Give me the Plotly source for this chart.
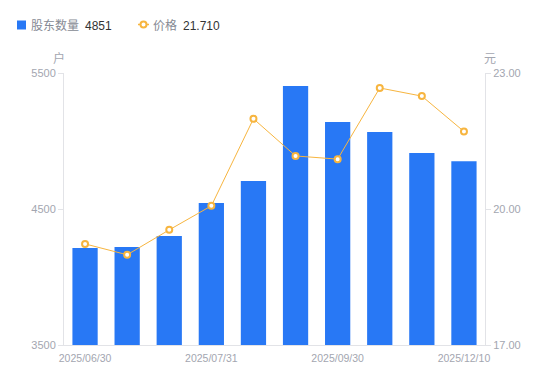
import plotly.graph_objects as go

dates = ["2025/06/30", "2025/07/10", "2025/07/20", "2025/07/31", "2025/08/10",
         "2025/08/31", "2025/09/30", "2025/10/31", "2025/11/30", "2025/12/10"]
holders = [4213, 4221, 4301, 4544, 4706, 5404, 5140, 5066, 4912, 4851]
prices = [19.23, 18.99, 19.54, 20.07, 21.99, 21.17, 21.10, 22.67, 22.49, 21.71]
shown_ticks = ["2025/06/30", "2025/07/31", "2025/09/30", "2025/12/10"]
left_ticks = [3500, 4500, 5500]
right_ticks = [17.0, 20.0, 23.0]
legend_names = ["股东数量", "价格"]
legend_values = ["4851", "21.710"]

font = "Liberation Sans, Noto Sans CJK SC, sans-serif"
grey = "#a3a6b0"
label_grey = "#868a94"
blue = "#2878f5"
orange = "#f7b53f"
axis_c = "#e2e3e7"

W, H = 550, 381
L, R, T, B = 64, 65, 73, 36
PW, PH = W - L - R, H - T - B


def px(x):
    return (x - L) / PW


def py(y):
    return (H - B - y) / PH


fig = go.Figure()
fig.add_trace(go.Bar(
    x=dates, y=holders, width=0.6, marker=dict(color=blue, line=dict(width=0)),
    name=legend_names[0], yaxis="y",
))
fig.add_trace(go.Scatter(
    x=dates, y=prices, mode="lines+markers",
    line=dict(color=orange, width=1),
    marker=dict(size=6, color="white", line=dict(color=orange, width=2)),
    name=legend_names[1], yaxis="y2",
))

shapes = [
    dict(type="rect", xref="paper", yref="paper",
         x0=px(17), x1=px(26), y0=py(29.5), y1=py(20.5),
         fillcolor=blue, line=dict(width=0)),
    dict(type="line", xref="paper", yref="paper",
         x0=px(138), x1=px(149), y0=py(24.5), y1=py(24.5),
         line=dict(color=orange, width=1.5)),
    dict(type="circle", xref="paper", yref="paper",
         x0=px(140.5), x1=px(146.5), y0=py(27.5), y1=py(21.5),
         fillcolor="white", line=dict(color=orange, width=2)),
]

ann_common = dict(xref="paper", yref="paper", showarrow=False,
                  xanchor="left", yanchor="middle", borderpad=0)
annotations = [
    dict(text=legend_names[0], x=px(30), y=py(25.5),
         font=dict(size=12, color=label_grey, family=font), **ann_common),
    dict(text=legend_values[0], x=px(84), y=py(25.5),
         font=dict(size=12, color="#333333", family=font), **ann_common),
    dict(text=legend_names[1], x=px(152), y=py(25.5),
         font=dict(size=12, color=label_grey, family=font), **ann_common),
    dict(text=legend_values[1], x=px(182), y=py(25.5),
         font=dict(size=12, color="#333333", family=font), **ann_common),
    dict(text="户", xref="paper", yref="paper", x=px(58.5), y=py(57),
         showarrow=False, xanchor="center", yanchor="middle",
         font=dict(size=12, color=grey, family="Noto Sans CJK SC")),
    dict(text="元", xref="paper", yref="paper", x=px(490), y=py(57),
         showarrow=False, xanchor="center", yanchor="middle",
         font=dict(size=12, color=grey, family="Noto Sans CJK SC")),
]

fig.update_layout(
    width=W, height=H,
    margin=dict(l=L, r=R, t=T, b=B, autoexpand=False),
    paper_bgcolor="white", plot_bgcolor="white",
    font=dict(family=font, size=11, color=grey),
    showlegend=False,
    bargap=0.4,
    xaxis=dict(type="category", range=[-0.5, len(dates) - 0.5],
               tickmode="array", tickvals=shown_ticks,
               ticktext=shown_ticks, showgrid=False, showline=True,
               linecolor=axis_c, linewidth=1, ticks="", zeroline=False,
               automargin=False, ticklabelstandoff=3,
               tickfont=dict(size=10.5, color=grey)),
    yaxis=dict(range=[3500, 5500], tickvals=left_ticks, showgrid=False,
               showline=True, linecolor=axis_c, ticks="outside", ticklen=5,
               tickcolor=axis_c, zeroline=False, automargin=False,
               tickfont=dict(size=11, color=grey)),
    yaxis2=dict(range=[17, 23], tickvals=right_ticks, tickformat=".2f",
                overlaying="y", side="right", showgrid=False, showline=True,
                linecolor=axis_c, ticks="outside", ticklen=5,
                tickcolor=axis_c, zeroline=False, automargin=False,
                tickfont=dict(size=11, color=grey)),
    shapes=shapes,
    annotations=annotations,
)

fig.write_html("out.html", config={"displayModeBar": False},
               post_script="document.body.style.margin='0';")
